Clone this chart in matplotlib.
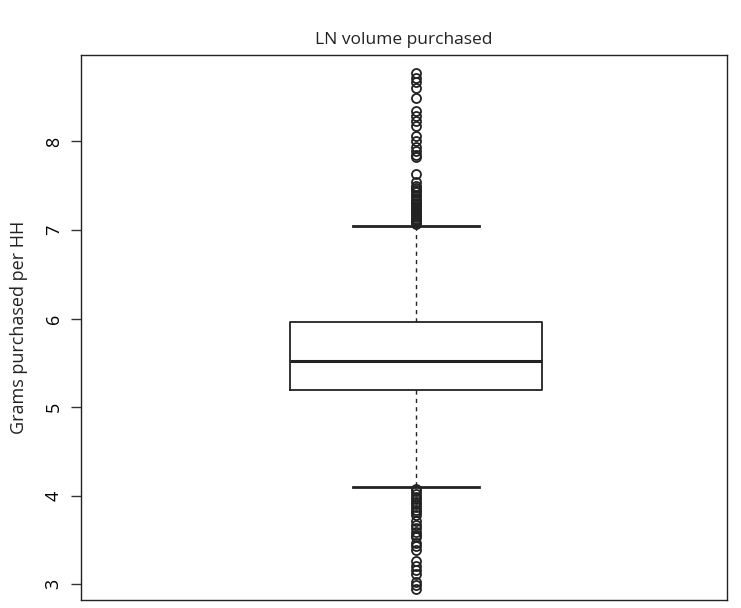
import numpy as np
import matplotlib.pyplot as plt

plt.rcParams['font.family'] = ['Open Sans', 'DejaVu Sans']

# 箱ひげ図の要約統計量（対数スケールの購入量）
q1 = 5.19
median = 5.515
q3 = 5.96
whisker_low = 4.10
whisker_high = 7.05

# 外れ値
fliers_high = [8.77, 8.72, 8.67, 8.60, 8.49, 8.34, 8.29, 8.23, 8.17, 8.06,
               8.01, 7.94, 7.89, 7.85, 7.82, 7.63, 7.54, 7.50, 7.47, 7.45,
               7.43, 7.40, 7.38, 7.35, 7.33, 7.31, 7.29, 7.27, 7.25, 7.23,
               7.21, 7.19, 7.17, 7.15, 7.13, 7.11, 7.09, 7.07]
fliers_low = [4.08, 4.05, 4.02, 3.99, 3.96, 3.93, 3.90, 3.87, 3.84, 3.81,
              3.78, 3.71, 3.67, 3.63, 3.59, 3.56, 3.53, 3.47, 3.43, 3.39,
              3.26, 3.21, 3.16, 3.11, 3.03, 2.99, 2.95]

stats = [{
    'med': median, 'q1': q1, 'q3': q3,
    'whislo': whisker_low, 'whishi': whisker_high,
    'fliers': np.array(fliers_high + fliers_low),
}]

fig = plt.figure(figsize=(7.41, 6.08), dpi=100)
ax = fig.add_axes([0.109, 0.013, 0.872, 0.897])

ax.bxp(stats, positions=[1], widths=0.8, showfliers=True,
       boxprops=dict(color='#222222', linewidth=1.3),
       medianprops=dict(color='#222222', linewidth=2.2),
       whiskerprops=dict(color='#222222', linewidth=1.0, linestyle=(0, (3, 3))),
       capprops=dict(color='#222222', linewidth=2.0),
       capwidths=0.4,
       flierprops=dict(marker='o', markerfacecolor='none', markeredgecolor='#222222',
                       markersize=6.5, markeredgewidth=1.3))

ax.set_xlim(-0.063, 1.987)
ax.set_ylim(2.82, 8.98)
ax.set_xticks([])
ax.set_yticks([3, 4, 5, 6, 7, 8])
ax.set_yticklabels(['3', '4', '5', '6', '7', '8'], rotation=90, va='center')
ax.tick_params(axis='y', length=7, width=1.0, labelsize=13, pad=6, color='#333333')
for s in ax.spines.values():
    s.set_linewidth(1.0)
    s.set_color('#222222')

ax.set_ylabel('Grams purchased per HH', fontsize=13, labelpad=12, color='#222222')
fig.text(0.545, 0.935, 'LN volume purchased', ha='center', va='center', fontsize=12.5,
         color='#222222')

plt.savefig('out.png', dpi=100)
